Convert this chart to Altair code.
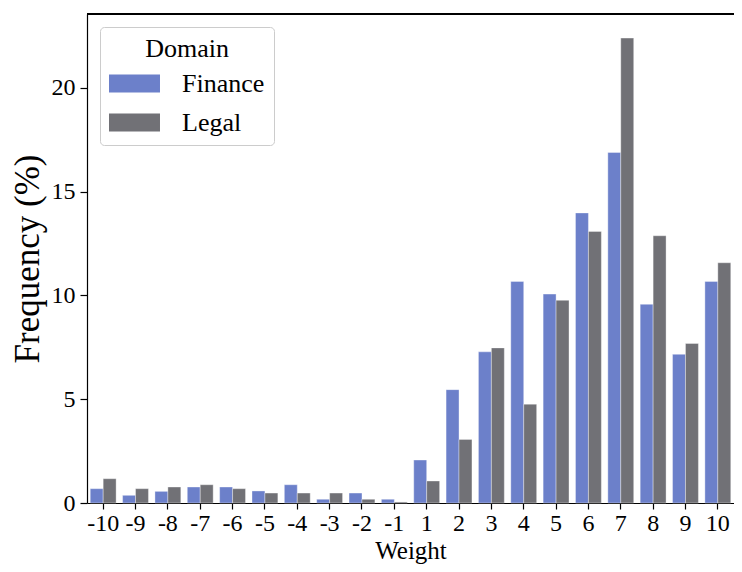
import altair as alt
import pandas as pd

weights = ["-10", "-9", "-8", "-7", "-6", "-5", "-4", "-3", "-2", "-1",
           "1", "2", "3", "4", "5", "6", "7", "8", "9", "10"]
finance = [0.69, 0.37, 0.56, 0.77, 0.77, 0.58, 0.88, 0.18, 0.48, 0.18,
           2.07, 5.46, 7.28, 10.67, 10.06, 13.97, 16.88, 9.57, 7.16, 10.67]
legal = [1.17, 0.69, 0.77, 0.88, 0.69, 0.48, 0.48, 0.48, 0.18, 0.05,
         1.06, 3.06, 7.47, 4.76, 9.76, 13.08, 22.39, 12.87, 7.68, 11.57]
domains = ["Finance", "Legal"]
colors = ["#6c80ca", "#717176"]

rows = []
for w, f, l in zip(weights, finance, legal):
    rows.append({"Weight": w, "Domain": "Finance", "Freq": f})
    rows.append({"Weight": w, "Domain": "Legal", "Freq": l})
df = pd.DataFrame(rows)

FONT = "Liberation Serif"

bars = alt.Chart(df).mark_bar(stroke="white", strokeWidth=0.6, strokeOpacity=0.6).encode(
    x=alt.X("Weight:N", sort=weights,
            scale=alt.Scale(paddingInner=0.2, paddingOuter=0.1),
            axis=alt.Axis(title="Weight", labelAngle=0, labelFontSize=24,
                          titleFontSize=25, labelFont=FONT, titleFont=FONT,
                          titleFontWeight="normal", labelColor="black", titleColor="black",
                          domainColor="black", tickColor="black", tickSize=6,
                          labelPadding=2, titlePadding=3)),
    xOffset=alt.XOffset("Domain:N", sort=domains),
    y=alt.Y("Freq:Q", scale=alt.Scale(domain=[0, 23.55], nice=False),
            axis=alt.Axis(title="Frequency (%)", values=[0, 5, 10, 15, 20],
                          labelFontSize=24, titleFontSize=35, labelFont=FONT,
                          titleFont=FONT, titleFontWeight="normal",
                          labelColor="black", titleColor="black",
                          domainColor="black", tickColor="black", tickSize=7,
                          grid=False, labelPadding=5, titlePadding=6)),
    color=alt.Color("Domain:N", sort=domains,
                    scale=alt.Scale(domain=domains, range=colors),
                    legend=alt.Legend(orient="none", legendX=13, legendY=13,
                                      title="Domain", titleFont=FONT, titleFontSize=26,
                                      titleFontWeight="normal", titleColor="black",
                                      titleAnchor="middle", titleAlign="center",
                                      labelFont=FONT, labelFontSize=26, labelColor="black",
                                      symbolType="M-1,-0.35H1V0.35H-1Z", symbolSize=2600,
                                      symbolStrokeWidth=0, symbolOpacity=1,
                                      labelOffset=22, rowPadding=-4,
                                      padding=9, strokeColor="#cccccc",
                                      fillColor="white", cornerRadius=4,
                                      titlePadding=-4)),
)

# top spine (the right spine lies beyond the picture edge in the reference)
top_spine = alt.Chart(df).mark_rule(color="black", strokeWidth=1.2).encode(
    y=alt.value(0), x=alt.value(0), x2=alt.value(647)
)

chart = alt.layer(bars, top_spine).properties(
    width=647, height=489,
    autosize=alt.AutoSizeParams(type="none"),
    padding={"left": 79, "top": 6, "right": 0, "bottom": 61},
).configure_view(stroke=None).configure_axis(domainWidth=1.2, tickWidth=1.2)

chart.save("out.html", embed_options={"renderer": "svg", "actions": False})
